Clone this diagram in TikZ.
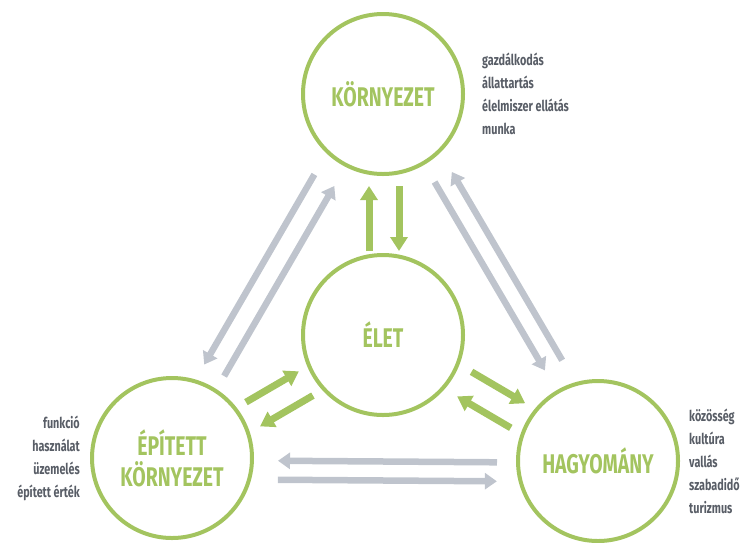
\documentclass[tikz,border=0pt]{standalone}
\usepackage{fontspec}
\usepackage{tikz}
\usetikzlibrary{calc,positioning,arrows.meta}
\newfontfamily\narrowfont[FakeStretch=0.72]{Fira Sans}

\begin{document}
\begin{tikzpicture}[x=1pt, y=-1pt, line join=round]
  \definecolor{leaf}{RGB}{163,196,95}
  \definecolor{mist}{RGB}{191,196,205}
  \definecolor{slate}{RGB}{88,93,102}

  \tikzset{
    ring/.style={circle, draw=leaf, line width=4pt, minimum size=160pt, inner sep=0pt,
      text=leaf, align=center, font=\narrowfont\bfseries\fontsize{27}{31}\selectfont},
    greenarrow/.style={draw=leaf, line width=7pt, -{Triangle[width=17pt,length=14pt]}},
    greyarrow/.style={draw=mist, line width=6.5pt, -{Triangle[width=16pt,length=12pt]}},
    sidelist/.style={inner sep=0pt, text=slate,
      font=\narrowfont\bfseries\fontsize{15}{23}\selectfont}
  }

  \newcommand{\arrowpair}[7]{%
    \draw[#1] ($(#2)!#6!(#3)!#4!90:(#3)$) -- ($(#3)!#7!(#2)!#4!-90:(#2)$);
    \draw[#1] ($(#3)!#7!(#2)!#5!-90:(#2)$) -- ($(#2)!#6!(#3)!#5!90:(#3)$);
  }

  \useasboundingbox (0,0) rectangle (751,542);

  \node[ring] (env) at (383,94) {KÖRNYEZET};
  \node[ring] (life) at (383,335) {ÉLET};
  \node[ring] (built) at (172,458) {ÉPÍTETT\\KÖRNYEZET};
  \node[ring] (trad) at (598,461) {HAGYOMÁNY};

  \node[sidelist, align=left, right=17pt of env] (envlist)
    {gazdálkodás\\állattartás\\élelmiszer ellátás\\munka};
  \node[sidelist, align=right, left=10pt of built] (builtlist)
    {funkció\\használat\\üzemelés\\épített érték};
  \node[sidelist, align=left, right=9pt of trad] (tradlist)
    {közösség\\kultúra\\vallás\\szabadidő\\turizmus};

  \arrowpair{greenarrow}{env}{life}{16pt}{-14pt}{92pt}{84pt}
  \arrowpair{greenarrow}{life}{built}{17pt}{-11pt}{91pt}{92pt}
  \arrowpair{greenarrow}{life}{trad}{13pt}{-15.5pt}{95pt}{92pt}
  \arrowpair{greyarrow}{env}{built}{-19pt}{4pt}{104pt}{97pt}
  \arrowpair{greyarrow}{env}{trad}{0pt}{20pt}{102pt}{105pt}
  \arrowpair{greyarrow}{built}{trad}{-21pt}{-2pt}{106pt}{101pt}
\end{tikzpicture}
\end{document}
